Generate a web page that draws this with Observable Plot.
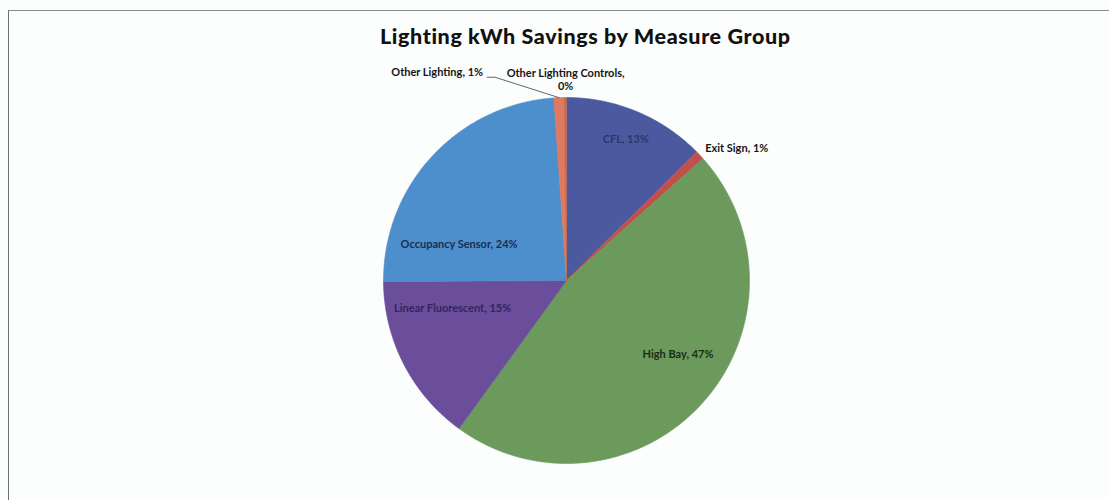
<!DOCTYPE html>
<html><head><meta charset="utf-8">
<script src="https://cdn.jsdelivr.net/npm/d3@7"></script>
<script src="https://cdn.jsdelivr.net/npm/@observablehq/plot@0.6"></script>
<style>
body{margin:0;background:#fff;}
#wrap{position:relative;width:1109px;height:500px;overflow:hidden;background:#fcfdfd;}
#frame{position:absolute;left:8px;top:10px;right:-2px;bottom:-2px;border-top:1px solid #8a8a8a;border-left:1px solid #6f6f6f;}
#title{position:absolute;left:380px;top:23px;font:900 21.5px Lato,"Open Sans",sans-serif;letter-spacing:0.6px;color:#111;white-space:nowrap;}
#chart{position:absolute;left:0;top:50px;}
</style></head>
<body>
<div id="wrap"><div id="frame"></div><div id="title">Lighting kWh Savings by Measure Group</div><div id="chart"></div></div>
<script>
const categories = ["CFL","Exit Sign","High Bay","Linear Fluorescent","Occupancy Sensor","Other Lighting","Other Lighting Controls"];
const shares = [12.6, 0.8, 46.6, 14.9, 24.0, 0.9, 0.2];
const colors = ["#4b5a9f","#c0504d","#6b9a5c","#6a4d9b","#4d8ecc","#df7a5e","#c46a52"];

// label styling (placement relative to slice mid-angle)
const labelCfg = {
  "CFL": {r:0.84, dt:0, anchor:"middle", color:"#2b3570"},
  "Exit Sign": {r:1.05, dt:-0.6, anchor:"start", color:"#151515"},
  "High Bay": {r:0.73, dt:-8.7, anchor:"middle", color:"#1c2a1a"},
  "Linear Fluorescent": {r:0.64, dt:13.6, anchor:"middle", color:"#33255e"},
  "Occupancy Sensor": {r:0.62, dt:-24, anchor:"middle", color:"#16304f"},
  "Other Lighting": {r:1.226, dt:-19.5, anchor:"end", color:"#151515"},
  "Other Lighting Controls": {r:1.098, dt:0.1, anchor:"middle", color:"#151515", wrap:true}
};

const arcs = d3.pie().sort(null).value(d => d)(shares);
const pts = [];
arcs.forEach((a, i) => {
  const name = categories[i];
  pts.push({name, x:0, y:0});
  const n = Math.max(2, Math.ceil((a.endAngle - a.startAngle) / (Math.PI/360)));
  for (let k = 0; k <= n; k++) {
    const t = a.startAngle + (a.endAngle - a.startAngle) * k / n;
    pts.push({name, x:Math.sin(t), y:Math.cos(t)});
  }
  pts.push({name, x:0, y:0});
});

const labels = arcs.map((a, i) => {
  const name = categories[i];
  const c = labelCfg[name];
  const mid = (a.startAngle + a.endAngle) / 2 + c.dt * Math.PI / 180;
  const pct = Math.round(shares[i]) + "%";
  return {name, mid: (a.startAngle + a.endAngle) / 2, x: c.r*Math.sin(mid), y: c.r*Math.cos(mid),
          text: name + (c.wrap ? ",\n" : ", ") + pct, ...c};
});

// leader for "Other Lighting"
const ol = labels.find(d => d.name === "Other Lighting");
const R = 183;
const leader = [
  {x: ol.x + 4/R, y: ol.y - 5/R},
  {x: ol.x + 12/R, y: ol.y - 5/R},
  {x: Math.sin(ol.mid), y: Math.cos(ol.mid)}
];

const font = "Lato, 'Open Sans', sans-serif";
const chart = Plot.plot({
  width: 1109, height: 450,
  marginLeft: 383, marginRight: 360, marginTop: 47, marginBottom: 37,
  x: {domain: [-1, 1], axis: null},
  y: {domain: [-1, 1], axis: null},
  color: {domain: categories, range: colors},
  style: {background: "transparent", overflow: "visible"},
  marks: [
    Plot.line(pts, {x: "x", y: "y", z: "name", fill: "name", stroke: "name", strokeWidth: 0.6, curve: "linear"}),
    Plot.line(leader, {x: "x", y: "y", stroke: "#555", strokeWidth: 0.9}),
    ...labels.map(d => Plot.text([d], {x: "x", y: "y", text: "text", textAnchor: d.anchor, fill: d.color,
      fontFamily: font, fontWeight: "bold", fontSize: 11, lineHeight: 1.2}))
  ]
});
document.getElementById("chart").appendChild(chart);
</script>
</body></html>
